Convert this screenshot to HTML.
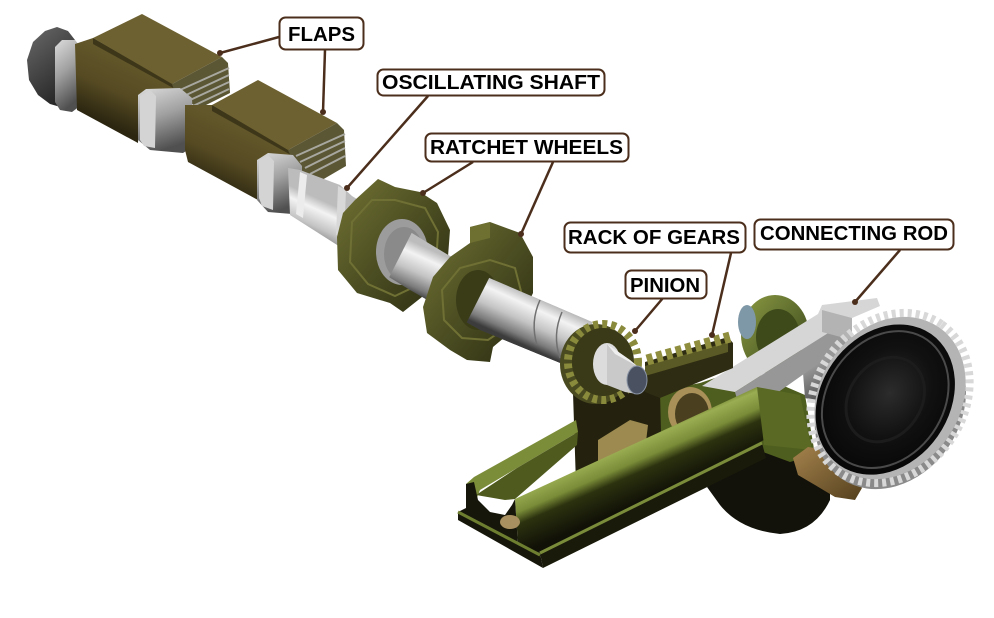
<!DOCTYPE html>
<html><head><meta charset="utf-8">
<style>
html,body{margin:0;padding:0;background:#fff;}
svg{display:block;}
.lb{font-family:"Liberation Sans",Arial,sans-serif;font-weight:bold;font-size:20px;fill:#000;}
</style></head><body>
<svg width="994" height="618" viewBox="0 0 994 618" xmlns="http://www.w3.org/2000/svg">
<defs>
<linearGradient id="sh" gradientUnits="userSpaceOnUse" x1="480" y1="272" x2="460" y2="316">
 <stop offset="0" stop-color="#bcbcbc"/><stop offset="0.22" stop-color="#f3f3f3"/><stop offset="0.55" stop-color="#c4c4c4"/><stop offset="0.85" stop-color="#7a7a7a"/><stop offset="1" stop-color="#3c3c3c"/>
</linearGradient>
<linearGradient id="fl1" gradientUnits="userSpaceOnUse" x1="122" y1="58" x2="95" y2="118">
 <stop offset="0" stop-color="#62572a"/><stop offset="0.5" stop-color="#554a22"/><stop offset="1" stop-color="#2c2611"/>
</linearGradient>
<linearGradient id="fl2" gradientUnits="userSpaceOnUse" x1="240" y1="128" x2="213" y2="188">
 <stop offset="0" stop-color="#62572a"/><stop offset="0.5" stop-color="#554a22"/><stop offset="1" stop-color="#2c2611"/>
</linearGradient>
<linearGradient id="gray" x1="0" y1="0" x2="0.3" y2="1">
 <stop offset="0" stop-color="#dcdcdc"/><stop offset="0.5" stop-color="#a0a0a0"/><stop offset="1" stop-color="#505050"/>
</linearGradient>
<linearGradient id="dcap" x1="0" y1="0" x2="0.5" y2="1">
 <stop offset="0" stop-color="#6a6a6a"/><stop offset="1" stop-color="#262626"/>
</linearGradient>
<linearGradient id="wh" x1="0" y1="0" x2="1" y2="1">
 <stop offset="0" stop-color="#727334"/><stop offset="0.5" stop-color="#4c4e22"/><stop offset="1" stop-color="#2a2b11"/>
</linearGradient>
<linearGradient id="tube" gradientUnits="userSpaceOnUse" x1="620" y1="442" x2="645" y2="500">
 <stop offset="0" stop-color="#6b7c2c"/><stop offset="0.12" stop-color="#9aad52"/><stop offset="0.38" stop-color="#7a8c38"/><stop offset="0.56" stop-color="#2c320f"/><stop offset="1" stop-color="#111107"/>
</linearGradient>
<linearGradient id="gd" x1="0" y1="0" x2="1" y2="1">
 <stop offset="0" stop-color="#8a9a42"/><stop offset="1" stop-color="#34401a"/>
</linearGradient>
<linearGradient id="br" x1="0" y1="0" x2="1" y2="1">
 <stop offset="0" stop-color="#a4824c"/><stop offset="1" stop-color="#54401e"/>
</linearGradient>
<radialGradient id="dface" cx="0.55" cy="0.5" r="0.6">
 <stop offset="0" stop-color="#2c2c2c"/><stop offset="0.5" stop-color="#111"/><stop offset="1" stop-color="#050505"/>
</radialGradient>
<polygon id="shaftP" points="288,168 300,170 340,185 352,196 420,238 480,274 592,322 592,376 480,330 410,290 345,250 290,215"/>
<clipPath id="c1"><polygon points="447,163 357,341 700,618 994,618 994,163"/></clipPath>
<clipPath id="c2"><polygon points="523,211 433,389 700,618 994,618 994,211"/></clipPath>
</defs>

<!-- ===== right assembly (back) ===== -->
<path d="M707,487 L763,452 L830,468 L830,500 Q815,532 780,534 Q740,530 720,505 Z" fill="#12120a"/>
<polygon points="575,425 575,400 640,395 700,383 745,368 770,380 805,395 815,455 790,462 763,452 700,470" fill="#4e5e1e"/>
<ellipse cx="775" cy="335" rx="34" ry="40" fill="url(#gd)"/>
<ellipse cx="778" cy="337" rx="22" ry="28" fill="#3e4a1a"/>
<ellipse cx="747" cy="322" rx="9" ry="17" fill="#7f98a8"/>
<polygon points="800,335 830,322 848,330 850,395 830,405 805,398" fill="url(#gray)"/>
<!-- rod -->
<polygon points="702,386 818,314 822,305 877,298 880,306 852,318 735,392" fill="#d6d6d6"/>
<polygon points="735,392 852,318 852,340 760,405 740,410" fill="#979797"/>
<polygon points="822,310 852,318 852,340 822,332" fill="#b3b3b3"/>
<!-- tan disc -->
<ellipse cx="690" cy="412" rx="22" ry="25" fill="#a89058"/>
<ellipse cx="692" cy="414" rx="17" ry="21" fill="#4a4020"/>
<!-- dark block -->
<polygon points="573,393 605,392 645,375 660,392 662,470 610,492 576,484" fill="#24220e"/>
<polygon points="598,440 630,420 648,425 645,450 610,470 598,462" fill="#9c8a50"/>
<!-- rack -->
<polygon points="645,362 728,337 733,343 733,368 660,398 645,392" fill="#2e2c12"/>
<polygon points="645,366 728,342 728,352 645,376" fill="#5a5a26"/>
<line x1="647" y1="360" x2="730" y2="337" stroke="#8e8e3e" stroke-width="11" stroke-dasharray="6 4"/>
<!-- green base / tube -->
<polygon points="466,484 474,477 576,420 578,432 517,468 480,490 476,500" fill="#7c8d3a"/>
<polygon points="476,495 517,468 578,432 577,445 515,499 505,500" fill="#4e5a1e"/>
<polygon points="515,499 757,387 764,440 540,553 518,545" fill="url(#tube)"/>
<polygon points="458,512 466,508 466,484 474,482 478,500 490,512 505,515 512,505 515,499 518,545 540,553 543,568 458,520" fill="#16160a"/>
<line x1="458" y1="512" x2="540" y2="555" stroke="#6e7e30" stroke-width="3"/>
<polygon points="540,553 762,443 766,458 543,568" fill="#1a1a0a"/>
<line x1="540" y1="553" x2="762" y2="443" stroke="#7a8c3a" stroke-width="3"/>
<ellipse cx="510" cy="522" rx="10" ry="7" fill="#a89060"/>
<polygon points="757,387 800,395 812,450 764,445" fill="#5a6a24"/>
<!-- coupling -->
<polygon points="793,458 808,447 828,450 848,470 862,488 855,500 835,497 815,485 798,475" fill="url(#br)"/>
<!-- big disc -->
<g transform="rotate(-55 890 398)">
 <ellipse cx="882" cy="404" rx="86" ry="70" fill="#8a8a8a"/>
 <ellipse cx="890" cy="398" rx="90" ry="74" fill="none" stroke="#d8d8d8" stroke-width="8" stroke-dasharray="4 4"/>
 <ellipse cx="890" cy="398" rx="86" ry="70" fill="#b4b4b4"/>
 <ellipse cx="886" cy="395" rx="80" ry="64" fill="url(#dface)"/>
 <ellipse cx="886" cy="395" rx="73" ry="58" fill="none" stroke="#4a4a4a" stroke-width="2"/>
 <ellipse cx="886" cy="395" rx="45" ry="36" fill="none" stroke="#1c1c1c" stroke-width="3"/>
</g>

<!-- ===== flaps ===== -->
<polygon points="27,60 33,42 45,31 57,27 68,31 75,40 75,100 64,108 50,104 38,95 29,80" fill="url(#dcap)"/>
<polygon points="55,47 62,40 75,40 80,46 80,106 72,112 60,110 55,102" fill="url(#gray)"/>
<polygon points="75,44 93,38 175,85 182,92 152,92 140,100 138,143 77,110" fill="url(#fl1)"/>
<polygon points="93,38 142,14 222,57 172,84" fill="#6d6131"/>
<polygon points="93,38 172,84 175,89 93,44" fill="#3e3619"/>
<polygon points="172,84 222,57 228,63 230,93 200,108 176,96" fill="#5b5634"/>
<g stroke="#a8a8a0" stroke-width="2">
 <line x1="180" y1="90" x2="229" y2="68"/><line x1="184" y1="96" x2="229" y2="75"/>
 <line x1="188" y1="101" x2="229" y2="82"/><line x1="193" y1="106" x2="229" y2="89"/>
</g>
<polygon points="138,95 146,89 180,88 192,98 194,146 183,153 150,150 138,140" fill="url(#gray)"/>
<polygon points="140,96 150,90 156,96 155,148 144,146 140,140" fill="#d4d4d4"/>
<polygon points="185,105 212,105 290,150 293,157 262,157 258,200 188,162 185,150" fill="url(#fl2)"/>
<polygon points="212,105 258,80 337,123 288,150" fill="#6d6131"/>
<polygon points="212,105 288,150 291,155 212,111" fill="#3e3619"/>
<polygon points="288,150 337,123 344,130 346,166 322,180 296,168" fill="#5b5634"/>
<g stroke="#a8a8a0" stroke-width="2">
 <line x1="296" y1="156" x2="345" y2="134"/><line x1="300" y1="162" x2="345" y2="141"/>
 <line x1="305" y1="168" x2="345" y2="148"/><line x1="310" y1="174" x2="345" y2="156"/>
</g>
<polygon points="257,160 268,153 293,155 302,166 302,207 292,214 268,212 257,200" fill="url(#gray)"/>
<polygon points="259,160 268,155 274,161 273,210 262,206 259,198" fill="#d4d4d4"/>

<!-- ===== shaft & wheels ===== -->
<use href="#shaftP" fill="url(#sh)"/>
<polygon points="300,172 307,175 303,218 296,214" fill="#ececec"/>
<polygon points="338,186 346,190 344,238 336,235" fill="#d8d8d8"/>
<!-- wheel 1 -->
<polygon points="343,213 355,200 378,179 395,187 420,192 437,203 450,230 447,270 427,293 403,312 390,303 357,293 338,270 337,237" fill="url(#wh)"/>
<polygon points="352,222 372,200 395,200 425,208 438,232 436,265 418,285 395,296 368,284 350,262" fill="none" stroke="#6f7034" stroke-width="2"/>
<ellipse cx="402" cy="252" rx="26" ry="33" fill="#9c9c9c"/>
<ellipse cx="404" cy="254" rx="20" ry="27" fill="#8a8a8a"/>
<use href="#shaftP" fill="url(#sh)" clip-path="url(#c1)"/>
<!-- wheel 2 -->
<polygon points="433,277 450,257 470,243 470,227 490,222 520,233 533,257 533,293 517,327 493,347 490,362 467,360 450,350 427,333 423,307" fill="url(#wh)"/>
<polygon points="470,227 490,222 490,238 470,243" fill="#6e7032"/>
<polygon points="442,290 460,268 490,260 515,268 522,295 510,325 488,340 462,338 444,320" fill="none" stroke="#6f7034" stroke-width="2"/>
<ellipse cx="478" cy="300" rx="22" ry="30" fill="#3a3c18"/>
<use href="#shaftP" fill="url(#sh)" clip-path="url(#c2)"/>
<path d="M540,300 Q530,322 537,345 M562,312 Q552,335 560,358" stroke="#707070" stroke-width="1.5" fill="none"/>
<!-- pinion -->
<ellipse cx="596" cy="364" rx="36" ry="40" fill="#4a4a20"/>
<ellipse cx="603" cy="362" rx="35" ry="38" fill="none" stroke="#8a8a3c" stroke-width="8" stroke-dasharray="5 4"/>
<ellipse cx="603" cy="362" rx="31" ry="34" fill="#3a3a18"/>
<ellipse cx="607" cy="364" rx="14" ry="21" fill="#dcdcdc"/>
<polygon points="607,344 630,360 637,366 637,394 625,392 607,385" fill="#c9c9c9"/>
<polygon points="607,344 630,360 637,366 615,354" fill="#eeeeee"/>
<ellipse cx="637" cy="380" rx="10" ry="14" fill="#4a5262" stroke="#8a94a4" stroke-width="1"/>

<!-- ===== leaders ===== -->
<g stroke="#4b2e1c" stroke-width="2.5" fill="none">
 <line x1="279" y1="37" x2="220" y2="53"/>
 <line x1="325" y1="50" x2="323" y2="112"/>
 <line x1="428" y1="96" x2="347" y2="188"/>
 <line x1="473" y1="162" x2="423" y2="193"/>
 <line x1="553" y1="162" x2="521" y2="234"/>
 <line x1="731" y1="253" x2="712" y2="335"/>
 <line x1="663" y1="298" x2="635" y2="331"/>
 <line x1="900" y1="250" x2="855" y2="302"/>
</g>
<g fill="#4b2e1c">
 <circle cx="220" cy="53" r="3"/><circle cx="323" cy="112" r="3"/><circle cx="347" cy="188" r="3"/>
 <circle cx="423" cy="193" r="3"/><circle cx="521" cy="234" r="3"/><circle cx="712" cy="335" r="3"/>
 <circle cx="635" cy="331" r="3"/><circle cx="855" cy="302" r="3"/>
</g>

<!-- ===== labels ===== -->
<g fill="#fff" stroke="#4b2e1c" stroke-width="2">
 <rect x="279.5" y="17.5" width="84" height="32" rx="6"/>
 <rect x="377.5" y="69.5" width="227" height="26" rx="6"/>
 <rect x="425.5" y="133.5" width="203" height="28" rx="6"/>
 <rect x="564.5" y="222.5" width="181" height="30" rx="6"/>
 <rect x="754.5" y="219.5" width="199" height="30" rx="6"/>
 <rect x="625.5" y="270.5" width="81" height="28" rx="6"/>
</g>
<text class="lb" x="288" y="41" textLength="67" lengthAdjust="spacingAndGlyphs">FLAPS</text>
<text class="lb" x="382" y="89" textLength="218" lengthAdjust="spacingAndGlyphs">OSCILLATING SHAFT</text>
<text class="lb" x="430" y="154" textLength="193" lengthAdjust="spacingAndGlyphs">RATCHET WHEELS</text>
<text class="lb" x="568" y="244" textLength="172" lengthAdjust="spacingAndGlyphs">RACK OF GEARS</text>
<text class="lb" x="760" y="240" textLength="188" lengthAdjust="spacingAndGlyphs">CONNECTING ROD</text>
<text class="lb" x="630" y="292" textLength="70" lengthAdjust="spacingAndGlyphs">PINION</text>
</svg>
</body></html>
